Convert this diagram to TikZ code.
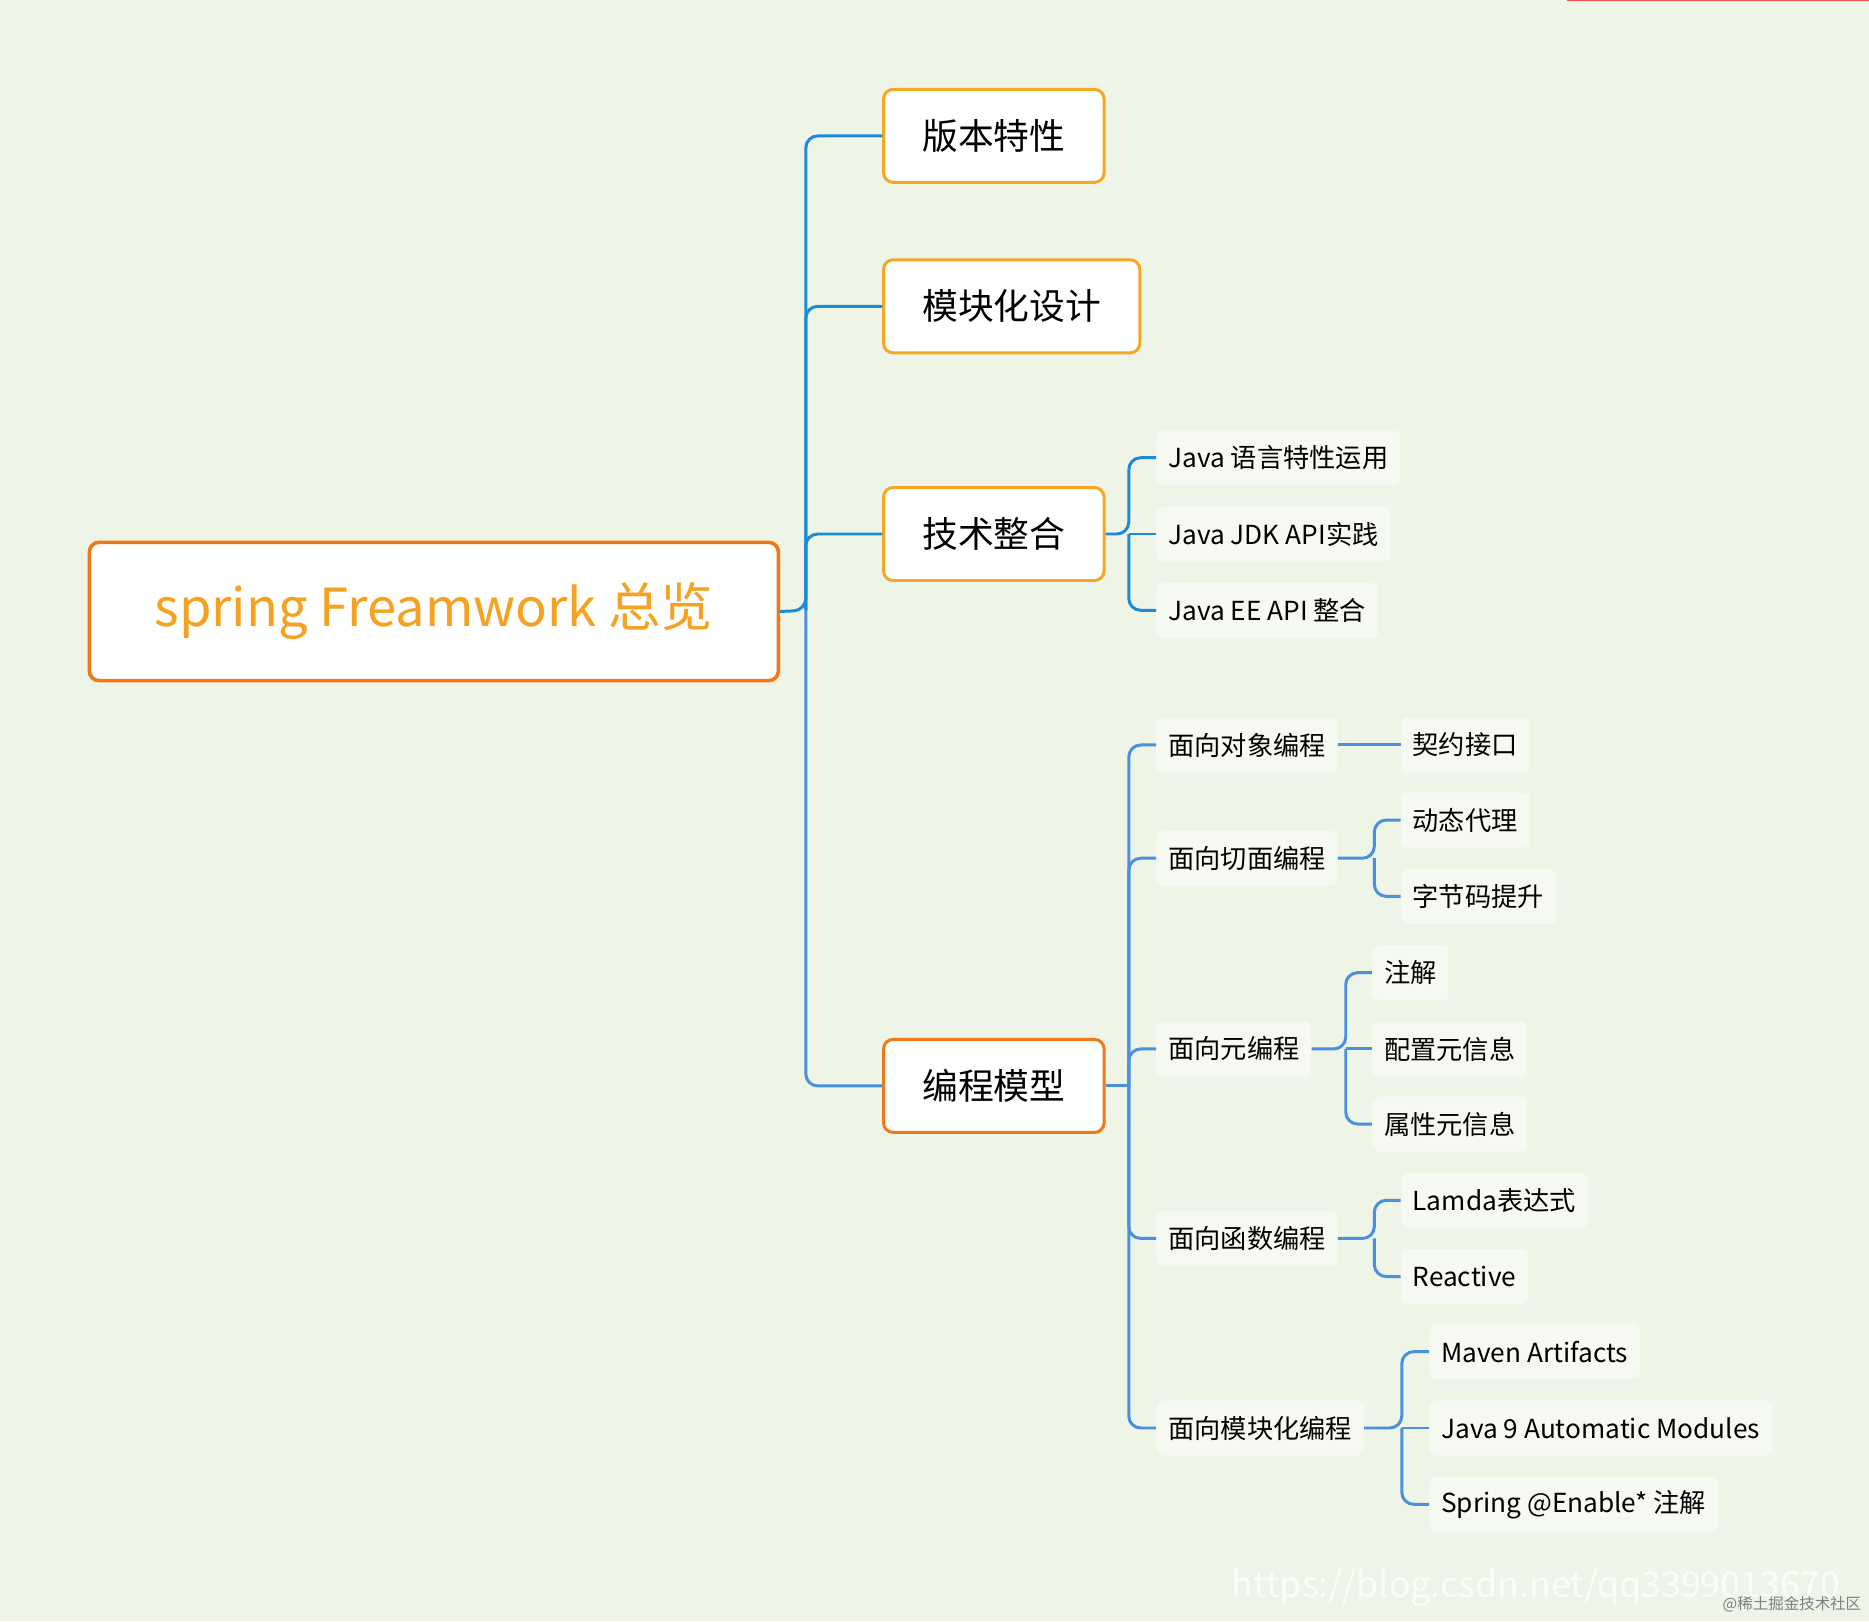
\documentclass[tikz,border=0pt]{standalone}
\usepackage{fontspec}
\setmainfont{Noto Sans CJK SC}
\definecolor{bg}{HTML}{EEF5E6}
\definecolor{orA}{HTML}{F5A623}
\definecolor{orB}{HTML}{F07818}
\definecolor{blA}{HTML}{1B8AD8}
\definecolor{blB}{HTML}{4A8FE0}
\begin{document}
\begin{tikzpicture}[x=1pt,y=-1pt,
  box/.style={draw=orA,line width=2.5pt,fill=white,rounded corners=8pt,minimum height=78pt,inner xsep=30pt,font=\fontsize{30}{36}\selectfont},
  leaf/.style={anchor=west,fill=white,fill opacity=0.45,text opacity=1,rounded corners=5pt,inner xsep=10pt,minimum height=46pt,font=\fontsize{22}{26}\selectfont},
  lnA/.style={draw=blA,line width=2.5pt,rounded corners=10pt},
  lnB/.style={draw=blB,line width=2.5pt,rounded corners=10pt}]
\fill[bg] (0,0) rectangle (1568,1360);
\useasboundingbox (0,0) rectangle (1568,1360);
\draw[red!70,line width=2pt] (1315,0) -- (1568,0);
\node[box,draw=orB,line width=3pt,minimum width=578pt,minimum height=116pt,text=orA!90!orange,font=\fontsize{44}{52}\selectfont] (root) at (364,513) {spring Freamwork 总览};
\node[box,anchor=west,minimum width=185pt] (b1) at (740,114) {版本特性};
\node[box,anchor=west,minimum width=215pt] (b2) at (740,257) {模块化设计};
\node[box,anchor=west,minimum width=185pt] (b3) at (740,448) {技术整合};
\node[box,anchor=west,draw=orB,minimum width=185pt] (b4) at (740,911) {编程模型};
\coordinate (tr) at (676,512);
\draw[lnA] (root.east) -- (tr) |- (b1.west);
\draw[lnA] (tr) |- (b2.west);
\draw[lnA] (tr) |- (b3.west);
\draw[lnB] (tr) |- (b4.west);
% tech
\node[leaf] (t1) at (970,384) {Java 语言特性运用};
\node[leaf] (t2) at (970,448) {Java JDK API实践};
\node[leaf] (t3) at (970,512) {Java EE API 整合};
\coordinate (tj) at (947,448);
\draw[lnA] (b3.east) -- (tj) |- (t1.west);
\draw[lnA] (tj) -- (t2.west);
\draw[lnA] (tj) |- (t3.west);
% programming
\node[leaf] (p1) at (970,625) {面向对象编程};
\node[leaf] (p2) at (970,720) {面向切面编程};
\node[leaf] (p3) at (970,880) {面向元编程};
\node[leaf] (p4) at (970,1039) {面向函数编程};
\node[leaf] (p5) at (970,1198) {面向模块化编程};
\coordinate (pj) at (947,911);
\draw[lnB] (b4.east) -- (pj);
\foreach \n in {p1,p2,p3,p4,p5} \draw[lnB] (pj) |- (\n.west);
\node[leaf] (q1) at (1175,625) {契约接口};
\draw[lnB] (p1.east) -- (q1.west);
\node[leaf] (q2) at (1175,688) {动态代理};
\node[leaf] (q3) at (1175,752) {字节码提升};
\coordinate (j2) at (1153,720);
\draw[lnB] (p2.east) -- (j2) |- (q2.west); \draw[lnB] (j2) |- (q3.west);
\node[leaf] (r1) at (1151,816) {注解};
\node[leaf] (r2) at (1151,880) {配置元信息};
\node[leaf] (r3) at (1151,943) {属性元信息};
\coordinate (j3) at (1129,880);
\draw[lnB] (p3.east) -- (j3) |- (r1.west); \draw[lnB] (j3) -- (r2.west); \draw[lnB] (j3) |- (r3.west);
\node[leaf] (s1) at (1175,1007) {Lamda表达式};
\node[leaf] (s2) at (1175,1071) {Reactive};
\coordinate (j4) at (1153,1039);
\draw[lnB] (p4.east) -- (j4) |- (s1.west); \draw[lnB] (j4) |- (s2.west);
\node[leaf] (u1) at (1199,1134) {Maven Artifacts};
\node[leaf] (u2) at (1199,1198) {Java 9 Automatic Modules};
\node[leaf] (u3) at (1199,1262) {Spring @Enable* 注解};
\coordinate (j5) at (1176,1198);
\draw[lnB] (p5.east) -- (j5) |- (u1.west); \draw[lnB] (j5) -- (u2.west); \draw[lnB] (j5) |- (u3.west);
% watermarks
\node[anchor=west,text=white,opacity=0.8,font=\fontsize{30}{34}\selectfont] (w1) at (1030,1332) {https://blog.csdn.net/qq3399013670};
\node[anchor=east,text=gray,font=\fontsize{13}{15}\selectfont] (w2) at (1565,1346) {@稀土掘金技术社区};
\end{tikzpicture}
\end{document}
